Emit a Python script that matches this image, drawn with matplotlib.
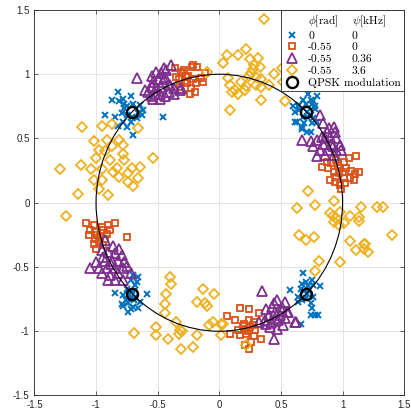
import numpy as np
import matplotlib
matplotlib.use('Agg')
import matplotlib.pyplot as plt
from matplotlib.patches import Circle
from matplotlib.lines import Line2D

# phi = 0 rad, psi = 0 kHz
blue_pts = [
    (-0.82, 0.86), (-0.87, 0.80), (-0.78, 0.81), (-0.72, 0.83), (-0.81, 0.79), (-0.77, 0.77),
    (-0.75, 0.75), (-0.70, 0.77), (-0.64, 0.76), (-0.62, 0.72), (-0.79, 0.70), (-0.93, 0.68),
    (-0.85, 0.67), (-0.75, 0.68), (-0.71, 0.67), (-0.67, 0.66), (-0.63, 0.68), (-0.78, 0.63),
    (-0.72, 0.63), (-0.82, 0.60), (-0.75, 0.59), (-0.70, 0.53), (-0.46, 0.67), (-0.66, 0.70),
    (-0.77, 0.74),
    (0.72, 0.85), (0.79, 0.83), (0.76, 0.79), (0.60, 0.75), (0.65, 0.76), (0.61, 0.63),
    (0.67, 0.57), (0.74, 0.55), (0.71, 0.67), (0.75, 0.62), (0.78, 0.75), (0.69, 0.62),
    (0.64, 0.75), (0.61, 0.71), (0.65, 0.72), (0.70, 0.77), (0.75, 0.77), (0.78, 0.73),
    (0.74, 0.68), (0.76, 0.66), (0.68, 0.67), (0.63, 0.63), (0.67, 0.59), (0.71, 0.55),
    (0.79, 0.63), (0.71, 0.71), (0.68, 0.80), (0.74, 0.80),
    (-0.70, -0.56), (-0.72, -0.60), (-0.68, -0.64), (-0.85, -0.70), (-0.78, -0.72), (-0.72, -0.74),
    (-0.68, -0.73), (-0.64, -0.77), (-0.59, -0.71), (-0.78, -0.80), (-0.74, -0.78), (-0.70, -0.81),
    (-0.74, -0.85), (-0.66, -0.82), (-0.68, -0.68), (-0.66, -0.58), (-0.75, -0.67), (-0.71, -0.69),
    (-0.79, -0.79), (-0.76, -0.76), (-0.69, -0.76), (-0.73, -0.71), (-0.67, -0.62), (-0.72, -0.83),
    (0.68, -0.55), (0.57, -0.68), (0.64, -0.73), (0.67, -0.63), (0.70, -0.62), (0.75, -0.60),
    (0.76, -0.64), (0.72, -0.65), (0.66, -0.67), (0.82, -0.65), (0.76, -0.73), (0.64, -0.77),
    (0.67, -0.76), (0.75, -0.82), (0.74, -0.87), (0.78, -0.87), (0.80, -0.87), (0.66, -0.94),
    (0.71, -0.71), (0.74, -0.78), (0.69, -0.69), (0.72, -0.68), (0.70, -0.74),
]

# phi = -0.55 rad, psi = 0 kHz
red_pts = [
    (-0.36, 1.05), (-0.31, 1.01), (-0.22, 1.06), (-0.18, 1.06), (-0.27, 0.98), (-0.21, 0.96),
    (-0.13, 0.94), (-0.32, 0.90), (-0.24, 0.85), (-0.20, 0.86), (-0.35, 0.98), (-0.29, 1.03),
    (-0.21, 1.07), (-0.25, 0.99), (-0.12, 1.01), (-0.30, 1.02), (-0.26, 0.93), (-0.19, 0.93),
    (-0.23, 0.89), (-0.15, 0.97), (-0.28, 0.95), (-0.33, 0.96),
    (1.11, 0.36), (1.05, 0.35), (1.01, 0.32), (0.95, 0.33), (0.91, 0.31), (0.87, 0.32),
    (0.83, 0.28), (0.88, 0.27), (0.93, 0.24), (0.98, 0.27), (1.03, 0.27), (1.07, 0.25),
    (1.13, 0.24), (1.10, 0.22), (1.06, 0.19), (1.01, 0.19), (0.95, 0.20), (0.90, 0.18),
    (0.98, 0.14), (0.94, 0.16), (1.02, 0.15), (1.09, 0.18), (0.99, 0.11), (0.97, 0.23),
    (1.00, 0.24), (0.96, 0.29),
    (-1.08, -0.16), (-1.02, -0.17), (-0.95, -0.19), (-0.90, -0.17), (-0.85, -0.16), (-1.05, -0.21),
    (-1.01, -0.23), (-0.94, -0.21), (-0.89, -0.21), (-1.06, -0.25), (-1.01, -0.28), (-0.97, -0.27),
    (-0.91, -0.24), (-1.02, -0.32), (-0.98, -0.30), (-1.00, -0.36), (-0.94, -0.33), (-0.75, -0.27),
    (-0.99, -0.25), (-0.93, -0.28),
    (0.06, -0.88), (0.17, -0.82), (0.24, -0.83), (0.32, -0.86), (0.13, -0.91), (0.20, -0.94),
    (0.24, -0.91), (0.28, -0.93), (0.15, -0.99), (0.21, -0.98), (0.25, -0.97), (0.29, -0.99),
    (0.09, -1.02), (0.17, -1.03), (0.22, -1.02), (0.28, -1.04), (0.34, -1.06), (0.26, -1.08),
    (0.24, -1.14), (0.21, -1.11), (0.19, -0.96), (0.23, -1.00), (0.27, -0.95),
]

# phi = -0.55 rad, psi = 0.36 kHz
purple_pts = [
    (-0.67, 0.97), (-0.55, 0.99), (-0.51, 1.02), (-0.47, 1.01), (-0.39, 1.07), (-0.43, 1.03),
    (-0.54, 0.94), (-0.50, 0.96), (-0.45, 0.96), (-0.55, 0.90), (-0.51, 0.89), (-0.47, 0.90),
    (-0.41, 0.92), (-0.58, 0.86), (-0.52, 0.85), (-0.48, 0.85), (-0.41, 0.86), (-0.54, 0.81),
    (-0.48, 0.81), (-0.37, 0.89), (-0.32, 0.88), (-0.44, 0.83), (-0.45, 1.05), (-0.44, 0.98),
    (-0.40, 0.92), (-0.37, 0.85), (-0.31, 0.89), (-0.55, 0.83), (-0.60, 0.88), (-0.46, 0.94),
    (0.82, 0.68), (0.84, 0.62), (0.93, 0.59), (0.94, 0.55), (0.87, 0.55), (0.83, 0.51),
    (0.90, 0.51), (0.95, 0.50), (0.67, 0.49), (0.74, 0.48), (0.79, 0.49), (0.84, 0.46),
    (0.91, 0.46), (0.98, 0.45), (0.76, 0.44), (0.82, 0.41), (0.88, 0.41), (0.95, 0.41),
    (0.99, 0.41), (0.79, 0.36), (0.86, 0.37), (0.93, 0.37), (0.89, 0.58), (0.86, 0.50),
    (0.92, 0.44),
    (-0.93, -0.29), (-0.86, -0.34), (-0.81, -0.36), (-0.95, -0.37), (-0.90, -0.38), (-0.85, -0.39),
    (-0.79, -0.41), (-1.00, -0.46), (-0.93, -0.45), (-0.87, -0.45), (-0.82, -0.45), (-0.77, -0.46),
    (-1.05, -0.51), (-0.98, -0.51), (-0.91, -0.51), (-0.85, -0.51), (-0.78, -0.51), (-0.95, -0.55),
    (-0.89, -0.56), (-0.82, -0.55), (-0.90, -0.60), (-0.85, -0.60), (-0.78, -0.60), (-0.72, -0.55),
    (-0.75, -0.49), (-0.88, -0.48), (-0.94, -0.42),
    (0.35, -0.69), (0.38, -0.83), (0.44, -0.78), (0.47, -0.76), (0.53, -0.77), (0.40, -0.87),
    (0.45, -0.85), (0.51, -0.84), (0.56, -0.85), (0.32, -0.93), (0.37, -0.91), (0.42, -0.93),
    (0.48, -0.91), (0.53, -0.90), (0.41, -0.97), (0.47, -0.98), (0.52, -0.95), (0.62, -0.93),
    (0.44, -1.06), (0.38, -0.94), (0.49, -0.87), (0.51, -0.81), (0.55, -0.85), (0.61, -0.93),
    (0.45, -0.90), (0.43, -0.81),
]

# phi = -0.55 rad, psi = 3.6 kHz
yellow_pts = [
    (0.36, 1.43), (0.06, 1.15), (0.03, 1.09), (0.15, 1.15), (0.22, 1.20), (0.25, 1.12),
    (0.31, 1.13), (0.28, 1.07), (0.33, 1.06), (0.26, 1.01), (0.24, 0.99), (0.30, 0.98),
    (0.34, 0.96), (0.44, 1.00), (0.51, 1.05), (0.52, 0.94), (0.07, 0.97), (0.09, 0.92),
    (0.13, 0.88), (0.18, 0.94), (0.21, 0.88), (0.15, 0.85), (0.10, 0.86), (0.30, 0.92),
    (0.34, 0.90), (0.40, 0.92), (0.53, 0.79), (0.34, 0.80), (0.09, 0.72), (-0.10, 1.02),
    (0.27, 1.04), (0.22, 0.91),
    (-1.11, 0.59), (-0.95, 0.60), (-0.87, 0.61), (-1.02, 0.48), (-0.91, 0.49), (-0.81, 0.49),
    (-0.98, 0.41), (-0.87, 0.44), (-0.78, 0.45), (-1.29, 0.26), (-1.12, 0.29), (-1.04, 0.26),
    (-1.00, 0.35), (-0.89, 0.33), (-0.77, 0.33), (-0.95, 0.26), (-0.86, 0.24), (-0.74, 0.23),
    (-1.02, 0.18), (-0.95, 0.18), (-0.81, 0.20), (-0.74, 0.16), (-0.98, 0.11), (-0.90, 0.06),
    (-1.15, 0.07), (-1.24, -0.10), (-0.78, 0.38), (-0.70, 0.13), (-0.71, 0.27), (-0.66, 0.58),
    (-0.54, 0.35), (-0.64, 0.28), (-0.66, 0.19), (-0.93, 0.40), (-0.83, 0.27),
    (0.72, 0.09), (0.63, -0.04), (0.78, -0.02), (0.93, 0.01), (0.90, -0.08), (0.98, -0.07),
    (1.06, -0.10), (1.13, -0.11), (1.15, -0.03), (1.28, -0.03), (1.33, -0.03), (0.93, -0.15),
    (0.97, -0.17), (1.01, -0.16), (0.65, -0.25), (0.70, -0.29), (0.77, -0.27), (1.06, -0.30),
    (1.18, -0.32), (1.11, -0.37), (1.17, -0.36), (1.21, -0.38), (1.40, -0.25), (0.81, -0.45),
    (0.78, -0.53), (0.98, -0.46), (0.95, -0.12), (1.13, -0.14), (1.17, -0.32), (0.92, -0.10),
    (-0.40, -0.58), (-0.39, -0.63), (-0.43, -0.71), (-0.44, -0.79), (-0.44, -0.86), (-0.51, -0.97),
    (-0.51, -1.03), (-0.42, -1.06), (-0.35, -0.93), (-0.32, -0.99), (-0.33, -1.02), (-0.18, -1.03),
    (-0.21, -1.12), (-0.31, -1.14), (-0.69, -1.01), (-0.13, -0.67), (-0.04, -0.71), (-0.18, -0.77),
    (-0.12, -0.78), (-0.10, -0.80), (-0.08, -0.95), (-0.05, -0.93), (0.01, -0.94), (0.01, -1.03),
    (0.03, -0.94), (0.22, -1.11), (-0.30, -1.00),
]

qpsk_x = [0.7071, -0.7071, -0.7071, 0.7071]
qpsk_y = [0.7071, 0.7071, -0.7071, -0.7071]

phi_labels = ['0', '-0.55', '-0.55', '-0.55']
psi_labels = ['0', '0', '0.36', '3.6']

ticks = [-1.5, -1, -0.5, 0, 0.5, 1, 1.5]
tick_labels = ['-1.5', '-1', '-0.5', '0', '0.5', '1', '1.5']

plt.rcParams['mathtext.fontset'] = 'cm'
plt.rcParams['font.family'] = ['Liberation Sans', 'DejaVu Sans']

fig = plt.figure(figsize=(4.11, 4.16), dpi=100)
ax = fig.add_axes([0.0837, 0.0493, 0.8998, 0.9267])

series = [
    (blue_pts, 'x', '#0072BD', 4.8, 1.4),
    (red_pts, 's', '#D95319', 5.0, 1.3),
    (purple_pts, '^', '#7E2F8E', 6.5, 1.3),
    (yellow_pts, 'D', '#EDB120', 5.0, 1.3),
]
handles = []
for pts, mk, col, ms, mew in series:
    arr = np.array(pts)
    h, = ax.plot(arr[:, 0], arr[:, 1], linestyle='none', marker=mk, ms=ms, mew=mew,
                 mec=col, mfc='none')
    handles.append(h)

ax.add_patch(Circle((0, 0), 1, fill=False, ec='k', lw=0.8, zorder=3))
hq, = ax.plot(qpsk_x, qpsk_y, linestyle='none', marker='o', ms=8, mew=1.7,
              mec='k', mfc='none', zorder=4)

ax.set_xlim(-1.5, 1.5)
ax.set_ylim(-1.5, 1.5)
ax.set_xticks(ticks)
ax.set_xticklabels(tick_labels)
ax.set_yticks(ticks)
ax.set_yticklabels(tick_labels)
ax.tick_params(direction='in', top=True, right=True, labelsize=7, length=3,
               width=0.5, colors='#262626')
ax.grid(True, color='#e0e0e0', lw=0.6)
ax.set_axisbelow(True)
for s in ax.spines.values():
    s.set_color('#262626')
    s.set_linewidth(0.6)

header = Line2D([], [], linestyle='none')
leg = ax.legend([header] + handles + [hq],
                [r'$\phi$[rad]'] + phi_labels + ['QPSK modulation'],
                loc='upper right', bbox_to_anchor=(1, 1), borderaxespad=0,
                prop={'family': 'cmr10', 'size': 8.3},
                labelspacing=0.15, handlelength=1.2, handletextpad=0.8,
                borderpad=0.3, fancybox=False, framealpha=1, edgecolor='#262626')
leg.get_frame().set_linewidth(0.6)

# second column of the legend
fig.canvas.draw()
texts = leg.get_texts()
qw = texts[-1].get_window_extent().width
W, H = fig.bbox.width, fig.bbox.height
second = [r'$\psi$[kHz]'] + psi_labels
for t, s in zip(texts[:5], second):
    xd, yd = t.get_transform().transform(t.get_position())
    fig.text((xd + 0.47 * qw) / W, yd / H, s, ha='left', va='baseline',
             family='cmr10', size=8.3, zorder=10)

fig.savefig('out.png', dpi=100)
